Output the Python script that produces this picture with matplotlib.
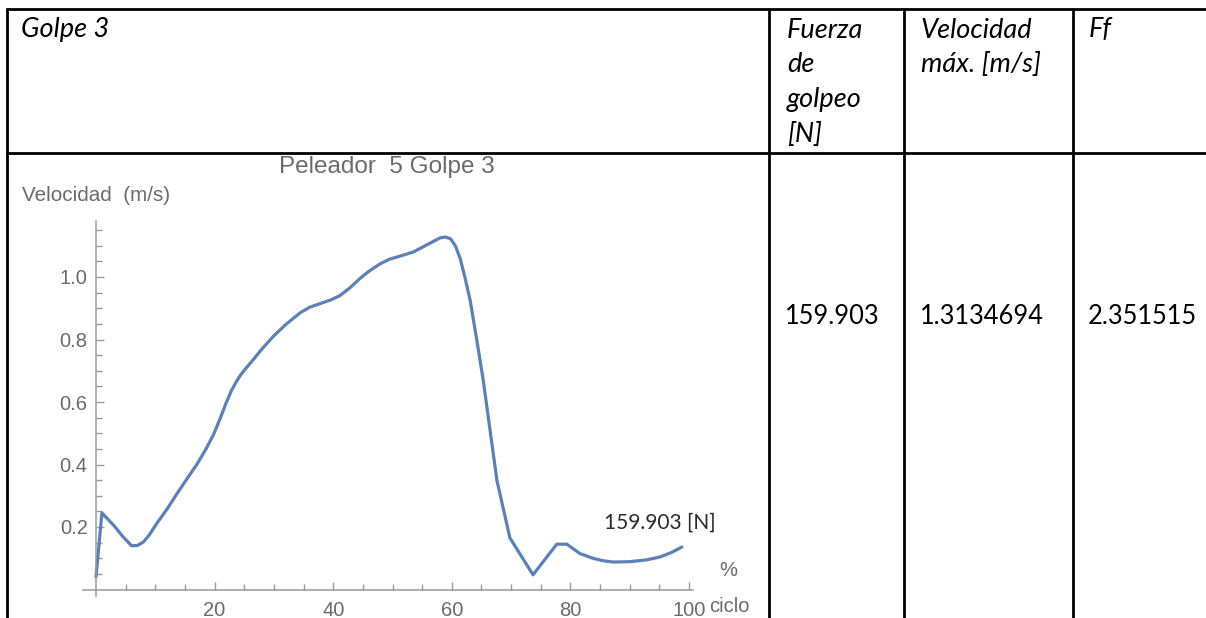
import matplotlib
matplotlib.use("Agg")
import matplotlib.pyplot as plt
from matplotlib.lines import Line2D
from matplotlib.ticker import FixedLocator

# ---------------- data ----------------
ciclo = [0, 1, 3, 4.5, 6, 7, 8, 9, 10.2, 12, 13.6, 15.3, 17, 18.5, 19.8,
         21, 21.9, 22.8, 23.6, 24.4, 25.2, 26.5, 28, 29.9, 32, 34.4, 36, 37.8,
         39.5, 41.1, 42.8, 44.5, 46, 47.9, 49.5, 51.3, 53.5, 55.1, 56.5, 58,
         58.9, 59.8, 60.6, 61.4, 62.2, 63.1, 64.2, 65.3, 67.6, 69.8, 73.7,
         77.7, 79.4, 81.6, 83.8, 85.5, 87.2, 90, 92.9, 95.1, 97, 98.8]
velocidad = [0.04, 0.245, 0.205, 0.17, 0.14, 0.141, 0.152, 0.175, 0.21, 0.258,
             0.305, 0.353, 0.40, 0.448, 0.495, 0.55, 0.595, 0.635, 0.663, 0.687,
             0.706, 0.735, 0.77, 0.81, 0.848, 0.885, 0.903, 0.915, 0.926,
             0.94, 0.965, 0.995, 1.018, 1.042, 1.057, 1.067, 1.08, 1.096, 1.11,
             1.125, 1.128, 1.122, 1.1, 1.06, 1.0, 0.925, 0.80, 0.67, 0.35,
             0.165, 0.047, 0.145, 0.145, 0.115, 0.10, 0.092, 0.088, 0.089,
             0.095, 0.104, 0.118, 0.136]

x_major = [20, 40, 60, 80, 100]
x_minor = [5, 10, 15, 25, 30, 35, 45, 50, 55, 65, 70, 75, 85, 90, 95]
y_major = [0.2, 0.4, 0.6, 0.8, 1.0]
y_labels = ["0.2", "0.4", "0.6", "0.8", "1.0"]
y_minor = [0.05, 0.1, 0.15, 0.25, 0.3, 0.35, 0.45, 0.5, 0.55, 0.65, 0.7,
           0.75, 0.85, 0.9, 0.95, 1.05, 1.1, 1.15]

titulo = "Peleador  5 Golpe 3"
ylabel = "Velocidad  (m/s)"
xlabel_top = "%"
xlabel_bottom = "ciclo"
anotacion = "159.903 [N]"

encabezados = [["Golpe 3"], ["Fuerza", "de", "golpeo", "[N]"],
               ["Velocidad", "máx. [m/s]"], ["Ff"]]
valores = ["159.903", "1.3134694", "2.351515"]

# ---------------- figure ----------------
W, H = 1206, 618
fig = plt.figure(figsize=(W / 100, H / 100), dpi=100)
fig.patch.set_facecolor("white")


def fx(px):
    return px / W


def fy(py):
    return 1 - py / H


# table lines
lw_tab = 2.0
col_x = [7, 769, 904, 1073]
top_y = 9
mid_y = 153


def hline(y, x0, x1):
    fig.add_artist(Line2D([fx(x0), fx(x1)], [fy(y), fy(y)], color="black",
                          lw=lw_tab, solid_capstyle="butt"))


def vline(x, y0, y1):
    fig.add_artist(Line2D([fx(x), fx(x)], [fy(y0), fy(y1)], color="black",
                          lw=lw_tab, solid_capstyle="butt"))


hline(top_y, 6, W)
hline(mid_y, 6, W)
for cx in col_x:
    vline(cx, top_y - 1, H)

# table text
tab_font = "Lato"
head_size = 19.5
val_size = 18.4
head_x = [21, 787, 921, 1089]
line_gap = 35
for hx, lines in zip(head_x, encabezados):
    for i, t in enumerate(lines):
        fig.text(fx(hx), fy(30 + i * line_gap), t, family=tab_font,
                 style="italic", fontsize=head_size, va="center", ha="left",
                 color="black")

val_x = [785, 920, 1088]
for vx, v in zip(val_x, valores):
    fig.text(fx(vx), fy(316), v, family=tab_font, fontsize=val_size,
             va="center", ha="left", color="black")

# ---------------- chart ----------------
x0_px, ppx = 96.0, 5.93
y0_px, ppy = 589.5, 312.5
xlim = (-3.5, 102.0)
ylim = (-0.03, 1.2)
left = x0_px + xlim[0] * ppx
right = x0_px + xlim[1] * ppx
bottom = y0_px - ylim[0] * ppy
top = y0_px - ylim[1] * ppy
ax = fig.add_axes([fx(left), fy(bottom), (right - left) / W, (bottom - top) / H])
ax.set_xlim(*xlim)
ax.set_ylim(*ylim)
ax.patch.set_alpha(0)

axis_col = "#9a9a9a"
lab_col = "#6b6b6b"
for s in ["top", "right"]:
    ax.spines[s].set_visible(False)
ax.spines["left"].set_position(("data", 0))
ax.spines["bottom"].set_position(("data", 0))
ax.spines["left"].set_bounds(-0.02, 1.18)
ax.spines["bottom"].set_bounds(-2.2, 100.7)
for s in ["left", "bottom"]:
    ax.spines[s].set_color(axis_col)
    ax.spines[s].set_linewidth(1.1)

ax.xaxis.set_major_locator(FixedLocator(x_major))
ax.xaxis.set_minor_locator(FixedLocator(x_minor))
ax.yaxis.set_major_locator(FixedLocator(y_major))
ax.yaxis.set_minor_locator(FixedLocator(y_minor))
ax.set_yticklabels(y_labels)
ax.tick_params(axis="both", which="both", direction="in", colors=axis_col,
               labelcolor=lab_col, labelsize=14.5, width=1.0)
ax.tick_params(axis="x", which="major", length=6, pad=8)
ax.tick_params(axis="x", which="minor", length=4)
ax.tick_params(axis="y", which="major", length=6, pad=6)
ax.tick_params(axis="y", which="minor", length=4)
for lbl in ax.get_xticklabels() + ax.get_yticklabels():
    lbl.set_family("Liberation Sans")

ax.plot(ciclo, velocidad, color="#5E81B5", lw=2.3, solid_joinstyle="round",
        solid_capstyle="round")

fig.text(fx(387), fy(167), titulo, family="Liberation Sans", fontsize=17.5,
         color=lab_col, ha="center", va="center")
fig.text(fx(22), fy(195), ylabel, family="Liberation Sans", fontsize=14.9,
         color=lab_col, ha="left", va="center")
fig.text(fx(728), fy(571), xlabel_top, family="Liberation Sans", fontsize=14.5,
         color=lab_col, ha="center", va="center")
fig.text(fx(729), fy(606), xlabel_bottom, family="Liberation Sans", fontsize=14.5,
         color=lab_col, ha="center", va="center")
fig.text(fx(660), fy(523), anotacion, family="Lato", fontsize=15,
         color="#2a2a2a", ha="center", va="center")

fig.savefig("out.png", dpi=100)
